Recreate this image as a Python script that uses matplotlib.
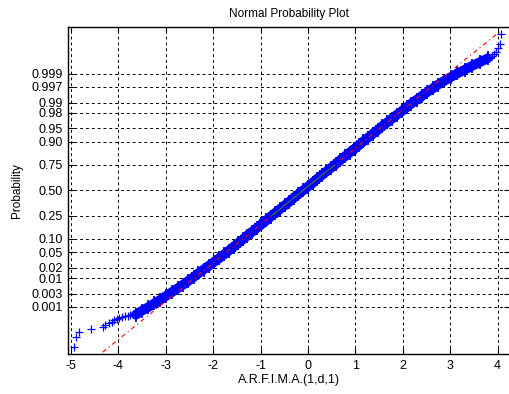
import numpy as np
import matplotlib.pyplot as plt
from statistics import NormalDist

n_obs = 30000

# sorted sample values, lowest ranks 1, 2, 3, ...
low_tail_x = [-4.93, -4.90, -4.83, -4.58, -4.33, -4.27, -4.20, -4.14,
              -4.08, -4.02, -3.98, -3.92, -3.86, -3.80, -3.76]
# highest ranks n, n-1, n-2, ...
high_tail_x = [4.07, 4.05, 4.00, 3.97, 3.93, 3.88]

# dense middle part: normal quantile of the plotting position -> sample value
body_z = [-3.3, -3.2, -3.1, -3.0, -2.9, -2.8, -2.7, -2.6, -2.5, -2.4, -2.3,
          -2.2, -2.1, -2.0, -1.9, -1.8, -1.7, -1.6, -1.5, -1.4, -1.3, -1.2,
          -1.1, -1.0, -0.9, -0.8, -0.7, -0.6, -0.5, -0.4, -0.3, -0.2, -0.1,
          0.0, 0.1, 0.2, 0.3, 0.4, 0.5, 0.6, 0.7, 0.8, 0.9, 1.0, 1.1, 1.2,
          1.3, 1.4, 1.5, 1.6, 1.7, 1.8, 1.9, 2.0, 2.1, 2.2, 2.3, 2.4, 2.5,
          2.6, 2.7, 2.8, 2.9, 3.0, 3.1, 3.2, 3.3, 3.4, 3.5]
body_x = [-3.63, -3.51, -3.37, -3.24, -3.11, -2.99, -2.87, -2.75, -2.63,
          -2.52, -2.41, -2.31, -2.20, -2.09, -1.98, -1.87, -1.77, -1.67,
          -1.57, -1.47, -1.37, -1.28, -1.18, -1.08, -0.98, -0.88, -0.79,
          -0.69, -0.59, -0.49, -0.39, -0.30, -0.20, -0.10, 0.00, 0.10, 0.19,
          0.29, 0.39, 0.49, 0.59, 0.68, 0.78, 0.88, 0.98, 1.08, 1.17, 1.27,
          1.37, 1.47, 1.57, 1.67, 1.77, 1.87, 1.98, 2.08, 2.18, 2.29, 2.40,
          2.51, 2.63, 2.74, 2.87, 3.01, 3.15, 3.31, 3.46, 3.63, 3.79]

prob_ticks = [0.001, 0.003, 0.01, 0.02, 0.05, 0.10, 0.25, 0.50, 0.75, 0.90,
              0.95, 0.98, 0.99, 0.997, 0.999]
prob_labels = ['0.001', '0.003', '0.01', '0.02', '0.05', '0.10', '0.25',
               '0.50', '0.75', '0.90', '0.95', '0.98', '0.99', '0.997', '0.999']
x_ticks = [-5, -4, -3, -2, -1, 0, 1, 2, 3, 4]

nd = NormalDist()
low_z = [nd.inv_cdf((i + 0.5) / n_obs) for i in range(len(low_tail_x))]
high_z = [nd.inv_cdf(1 - (i + 0.5) / n_obs) for i in range(len(high_tail_x))]

# robust fit through the quartiles, as normplot does
z1, z3 = nd.inv_cdf(0.25), nd.inv_cdf(0.75)
q1 = np.interp(z1, body_z, body_x)
q3 = np.interp(z3, body_z, body_x)
slope = (z3 - z1) / (q3 - q1)
xmin, xmax = low_tail_x[0], high_tail_x[0]

plt.rcParams['font.family'] = ['Liberation Sans', 'DejaVu Sans']
fig = plt.figure(figsize=(5.10, 3.94), dpi=100)
ax = fig.add_axes([68 / 510, 40 / 394, 442 / 510, 327 / 394])

blue = (0, 0, 1)
ax.plot(body_x, body_z, color=blue, lw=7, solid_capstyle='round', zorder=3)
ax.plot(body_x, body_z, '+', color=blue, ms=9.5, mew=1.3, zorder=3)
ax.plot(low_tail_x, low_z, '+', color=blue, ms=6, mew=0.9, zorder=3)
ax.plot(high_tail_x, high_z, '+', color=blue, ms=6, mew=0.9, zorder=3)

ax.plot([xmin, xmax], [z1 + slope * (xmin - q1), z1 + slope * (xmax - q1)],
        color='red', lw=0.8, ls=(0, (4, 3, 1, 3)), zorder=4)
ax.plot([q1, q3], [z1, z3], color=(0.1, 0.6, 0.2), lw=0.6, zorder=4)

ax.set_xlim(-5.06, 4.26)
ax.set_ylim(-4.34, 4.33)
ax.set_xticks(x_ticks)
ax.set_xticklabels([str(t) for t in x_ticks])
ax.set_yticks([nd.inv_cdf(p) for p in prob_ticks])
ax.set_yticklabels(prob_labels)
ax.tick_params(direction='in', length=4, width=0.8, labelsize=9,
               top=True, right=True, pad=4)
ax.grid(True, color='black', ls=(0, (3, 3)), lw=0.7)
ax.set_axisbelow(True)
for side in ['left', 'bottom', 'top']:
    ax.spines[side].set_linewidth(1.0)
ax.spines['right'].set_visible(False)

ax.set_title('Normal Probability Plot', fontsize=8.5, pad=7)
ax.set_xlabel('A.R.F.I.M.A.(1,d,1)', fontsize=9, labelpad=2)
ax.set_ylabel('Probability', fontsize=8.5, labelpad=6)

fig.savefig('out.png', dpi=100)
